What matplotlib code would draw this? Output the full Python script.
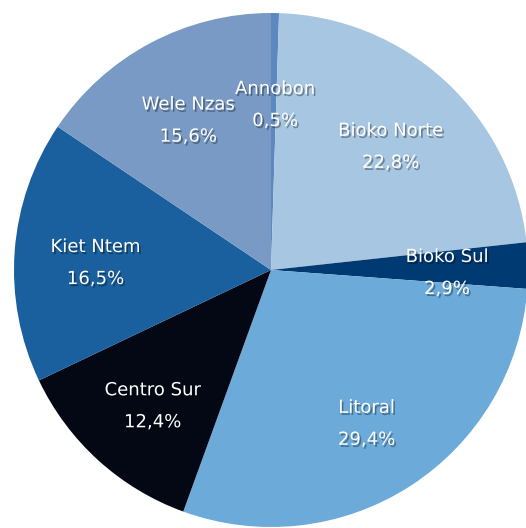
import matplotlib.pyplot as plt
import matplotlib.patheffects as pe
import numpy as np

regions = ["Annobon", "Bioko Norte", "Bioko Sul", "Litoral",
           "Centro Sur", "Kiet Ntem", "Wele Nzas"]
shares = [0.5, 22.8, 2.9, 29.4, 12.4, 16.5, 15.6]
colors = ["#5b89bf", "#a6c6e2", "#003a73", "#6baad9",
          "#030814", "#1a609e", "#789ac4"]

fig = plt.figure(figsize=(5.26, 5.28), dpi=100)
ax = fig.add_axes([0, 0, 1, 1])

cx, cy, r = 271, 258, 257
wedges, _ = ax.pie(shares, colors=colors, startangle=90, counterclock=False,
                   center=(cx, cy), radius=r, frame=True,
                   wedgeprops=dict(linewidth=0))
ax.set_xlim(0, 526)
ax.set_ylim(0, 528)
ax.set_aspect("equal")
ax.axis("off")

shadow = [pe.withSimplePatchShadow(offset=(1.2, -1.5), shadow_rgbFace="black", alpha=0.35)]
for w, name, val in zip(wedges, regions, shares):
    mid = np.deg2rad((w.theta1 + w.theta2) / 2)
    d = 0.685 * r
    x = cx + d * np.cos(mid)
    y = cy + d * np.sin(mid) - 6
    if name == "Annobon":
        x, y = cx + 4, cy + 0.65 * r - 2
    label = f"{name}\n{val:.1f}%".replace(".", ",")
    ax.text(x, y, label, ha="center", va="center", color="white",
            fontsize=13, linespacing=2.0, path_effects=shadow)

fig.savefig("out.png", dpi=100)
